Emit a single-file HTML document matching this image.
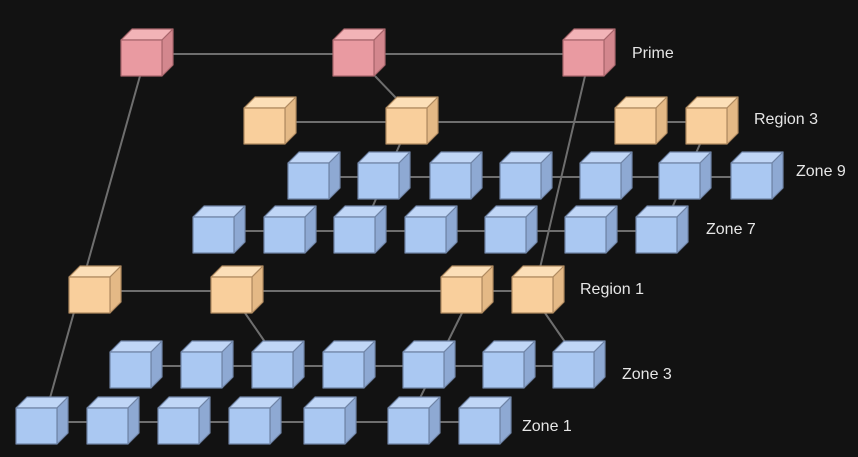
<!DOCTYPE html>
<html><head><meta charset="utf-8"><style>
html,body{margin:0;padding:0;background:#121212;}
svg{display:block;}
text{font-family:"Liberation Sans",sans-serif;font-size:16px;fill:#e6e6e6;}
</style></head><body>
<svg id="s" width="858" height="457" viewBox="0 0 858 457" xmlns="http://www.w3.org/2000/svg">
<defs><marker id="ah" markerWidth="8" markerHeight="8" refX="7" refY="4" orient="auto" markerUnits="userSpaceOnUse"><path d="M0,0 L8,4 L0,8 z" fill="#6e6e6e"/></marker></defs>
<rect width="858" height="457" fill="#121212"/>
<g id="lines" stroke="#6e6e6e" stroke-width="2" fill="none">
<line x1="140" y1="76" x2="50" y2="398"/>
<line x1="375" y1="76" x2="397" y2="99"/>
<line x1="585" y1="76" x2="540" y2="268"/>
<line x1="400" y1="144" x2="372" y2="208"/>
<line x1="700" y1="144" x2="672" y2="208"/>
<line x1="245" y1="313" x2="265" y2="342"/>
<line x1="462" y1="313" x2="420" y2="398"/>
<line x1="545" y1="313" x2="565" y2="342"/>
</g>
<g id="arrows"></g>
<g id="cubes"></g>
<text x="632" y="58">Prime</text>
<text x="754" y="124">Region 3</text>
<text x="796" y="176">Zone 9</text>
<text x="706" y="234">Zone 7</text>
<text x="580" y="294">Region 1</text>
<text x="622" y="379">Zone 3</text>
<text x="522" y="431">Zone 1</text>
</svg>
<script>
var NS="http://www.w3.org/2000/svg";
var C={p:["#e99aa1","#f2b3b7","#d3878e","#a8666c"],o:["#f9cf9c","#fcdfb8","#e4b986","#b08a60"],b:["#aac8f2","#c0d6f6","#8ea9d3","#6f84a6"]};
var rows=[
["p",40,[121,333,563]],
["o",108,[244,386,615,686]],
["b",163,[288,358,430,500,580,659,731]],
["b",217,[193,264,334,405,485,565,636]],
["o",277,[69,211,441,512]],
["b",352,[110,181,252,323,403,483,553]],
["b",408,[16,87,158,229,304,388,459]]];
var W=41,H=36,D=11;
var cg=document.getElementById("cubes"),ag=document.getElementById("arrows");
function poly(pts,fill,st){var p=document.createElementNS(NS,"polygon");p.setAttribute("points",pts);p.setAttribute("fill",fill);p.setAttribute("stroke",st);p.setAttribute("stroke-width","1.2");p.setAttribute("stroke-linejoin","round");cg.appendChild(p);}
rows.forEach(function(r){
 var c=C[r[0]],y=r[1],xs=r[2];
 for(var i=1;i<xs.length;i++){
  var l=document.createElementNS(NS,"line");
  l.setAttribute("x1",xs[i]);l.setAttribute("y1",y+14);
  l.setAttribute("x2",xs[i-1]+W+1);l.setAttribute("y2",y+14);
  l.setAttribute("stroke","#6e6e6e");l.setAttribute("stroke-width","2");
  l.setAttribute("marker-end","url(#ah)");ag.appendChild(l);
 }
 xs.forEach(function(x){
  poly(x+","+y+" "+(x+D)+","+(y-D)+" "+(x+W+D)+","+(y-D)+" "+(x+W)+","+y,c[1],c[3]);
  poly((x+W)+","+y+" "+(x+W+D)+","+(y-D)+" "+(x+W+D)+","+(y+H-D)+" "+(x+W)+","+(y+H),c[2],c[3]);
  poly(x+","+y+" "+(x+W)+","+y+" "+(x+W)+","+(y+H)+" "+x+","+(y+H),c[0],c[3]);
 });
});
</script>
</body></html>
